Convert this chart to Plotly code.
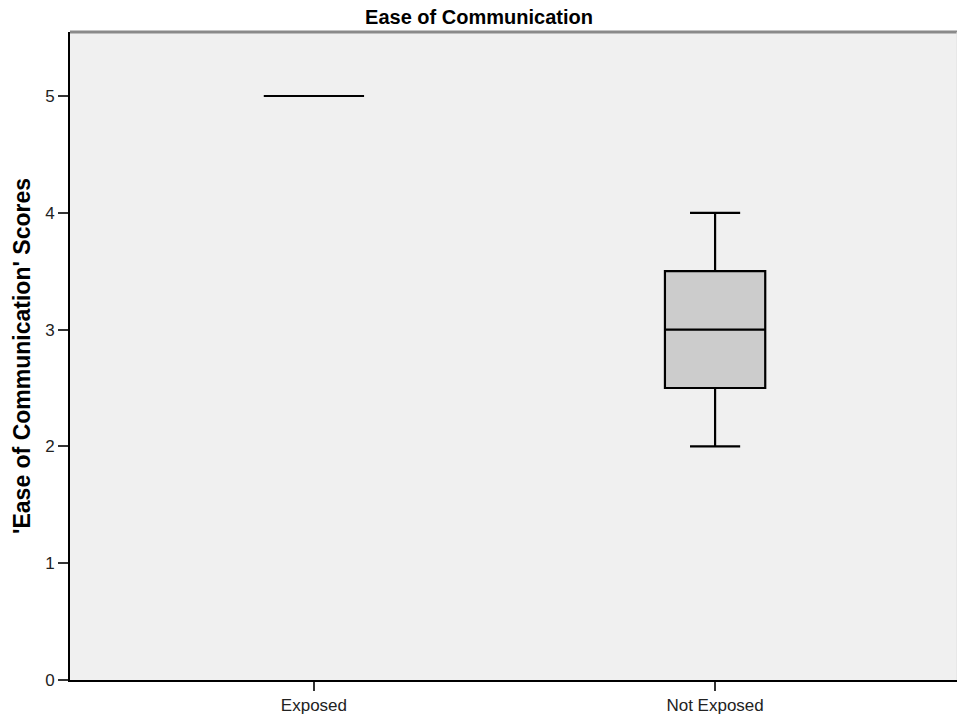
import plotly.graph_objects as go

# Groups and five-number summaries of the "Ease of Communication" scores
groups = ["Exposed", "Not Exposed"]
lower_whisker = [5, 2]
q1 = [5, 2.5]
median = [5, 3]
q3 = [5, 3.5]
upper_whisker = [5, 4]

y_ticks = [0, 1, 2, 3, 4, 5]

fig = go.Figure()
fig.add_trace(go.Box(
    x=groups,
    q1=q1,
    median=median,
    q3=q3,
    lowerfence=lower_whisker,
    upperfence=upper_whisker,
    width=0.25,
    whiskerwidth=0.5,
    fillcolor="#cccccc",
    line=dict(color="#000000", width=2.2),
    boxpoints=False,
    hoverinfo="skip",
    showlegend=False,
))

font_reg = "Liberation Sans, Arial, sans-serif"

fig.update_layout(
    width=957,
    height=715,
    margin=dict(l=70, r=0, t=32, b=35),
    paper_bgcolor="#ffffff",
    plot_bgcolor="#f0f0f0",
    title=dict(
        text="<b>Ease of Communication</b>",
        x=479 / 957,
        xanchor="center",
        y=1 - 17 / 715,
        yanchor="middle",
        font=dict(family=font_reg, size=20, color="#000000"),
    ),
    xaxis=dict(
        type="category",
        range=[-0.608, 1.603],
        automargin=False,
        showgrid=False,
        zeroline=False,
        showline=True,
        linecolor="#000000",
        linewidth=2,
        ticks="outside",
        ticklen=9,
        tickwidth=2,
        tickcolor="#333333",
        tickfont=dict(family=font_reg, size=17, color="#222222"),
    ),
    yaxis=dict(
        range=[0, 5.548],
        tickvals=y_ticks,
        automargin=False,
        showgrid=False,
        zeroline=False,
        showline=True,
        linecolor="#000000",
        linewidth=2,
        ticks="outside",
        ticklen=10,
        tickwidth=1.5,
        tickcolor="#333333",
        tickfont=dict(family=font_reg, size=17, color="#222222"),
    ),
    annotations=[
        dict(
            text="<b>'Ease of Communication' Scores</b>",
            xref="paper", yref="paper",
            x=0, y=0.5,
            xanchor="center", yanchor="middle",
            xshift=-48,
            textangle=-90,
            showarrow=False,
            font=dict(family=font_reg, size=23, color="#000000"),
        ),
    ],
    shapes=[
        # top frame edge of the plotting area
        dict(type="line", xref="paper", yref="paper", x0=0, x1=1, y0=1, y1=1,
             line=dict(color="#8a8a8a", width=3)),
        dict(type="line", xref="paper", yref="paper", x0=1, x1=1, y0=0, y1=1,
             line=dict(color="#e0e0e0", width=1)),
    ],
)

fig.write_html("out.html")
